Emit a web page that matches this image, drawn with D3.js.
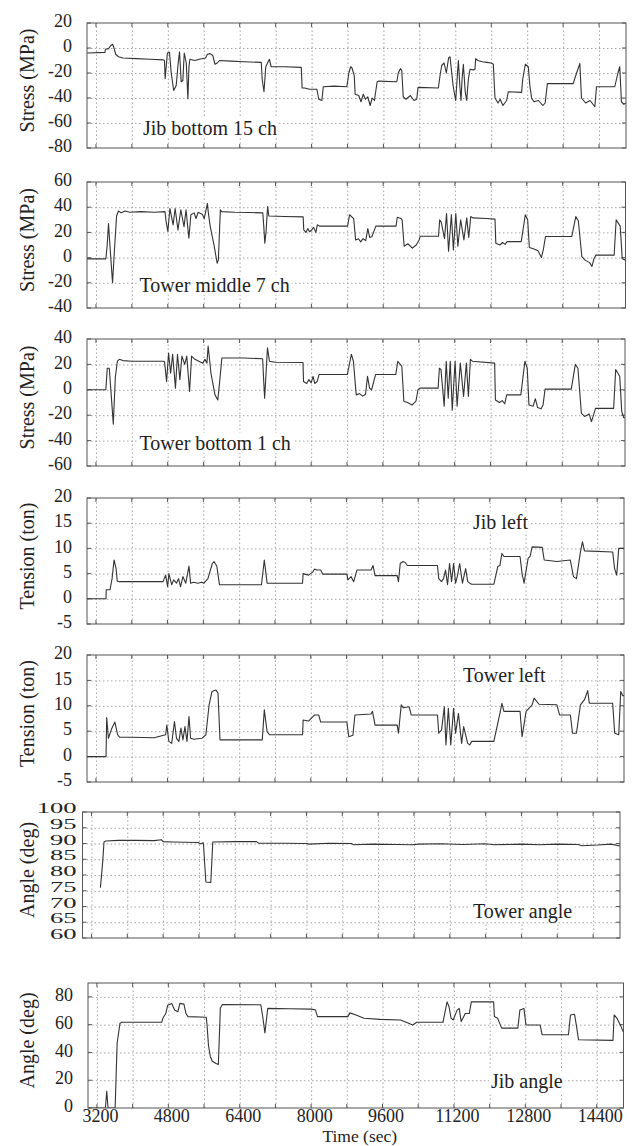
<!DOCTYPE html>
<html><head><meta charset="utf-8">
<script src="https://cdn.jsdelivr.net/npm/d3@7"></script>
<style>
body{margin:0;background:#fff}
svg{display:block}
text{font-family:"Liberation Serif","Times New Roman",serif;fill:#222}
</style>
</head><body>
<svg id="c" width="634" height="1146"></svg>
<script>
// ---------- data ----------
const timeDomain = [3000, 15000];
const gridTimes = [3200,4000,4800,5600,6400,7200,8000,8800,9600,10400,11200,12000,12800,13600,14400];
const labelTimes = [3200,4800,6400,8000,9600,11200,12800,14400];

const jibBottomTicks = [-80,-60,-40,-20,0,20];
const towerMiddleTicks = [-40,-20,0,20,40,60];
const towerBottomTicks = [-60,-40,-20,0,20,40];
const tensionTicks = [-5,0,5,10,15,20];
const towerAngleTicks = [60,65,70,75,80,85,90,95,100];
const jibAngleTicks = [0,20,40,60,80];

const panelTitles = ["Stress (MPa)","Stress (MPa)","Stress (MPa)","Tension (ton)","Tension (ton)","Angle (deg)","Angle (deg)"];
const panelLabels = ["Jib bottom 15 ch","Tower middle 7 ch","Tower bottom 1 ch","Jib left","Tower left","Tower angle","Jib angle"];

const jibBottom15 = [[3000,-4],[3400,-3.5],[3410,-1],[3480,-0.5],[3530,2],[3570,3],[3600,0],[3640,-5],[3700,-7],[3800,-8],[4100,-8.5],[4400,-9],[4700,-9.5],[4725,-10],[4740,-24.5],[4790,-4],[4837,-3.5],[4875,-20],[4930,-34],[4986,-30],[5030,-12],[5060,-3],[5097,-27],[5134,-26],[5165,-4],[5210,-12],[5246,-40.5],[5270,-15],[5290,-9],[5400,-10],[5500,-9],[5640,-8],[5680,-5],[5740,-4.5],[5800,-6],[5850,-13],[5900,-12],[5950,-10],[6200,-10.5],[6500,-11],[6880,-11.5],[6900,-25],[6940,-35],[6980,-15],[7020,-12],[7060,-9],[7100,-15],[7400,-15],[7770,-15.5],[7790,-32],[7850,-32],[7950,-33],[8118,-33],[8160,-41],[8230,-42],[8260,-31],[8500,-30.5],[8785,-31],[8830,-20],[8870,-15],[8900,-16],[8950,-22],[8970,-37],[9050,-38],[9100,-43],[9150,-37],[9200,-41],[9250,-39],[9304,-46],[9350,-40],[9400,-42],[9415,-38],[9460,-27],[9489,-26.5],[9897,-27],[9930,-20],[9980,-16.5],[10008,-18],[10040,-39],[10100,-41],[10200,-38],[10280,-42],[10341,-41],[10370,-31.5],[10823,-32],[10860,-22],[10897,-14],[10950,-12],[11000,-20],[11050,-8],[11082,-7],[11150,-30],[11208,-42],[11240,-25],[11268,-10],[11300,-30],[11327,-42],[11350,-25],[11379,-13],[11420,-35],[11453,-42],[11490,-25],[11527,-17],[11600,-17.5],[11638,-17],[11653,-8.5],[11700,-10],[11800,-11],[11900,-11.5],[12000,-12],[12046,-13],[12083,-40],[12150,-44],[12200,-41],[12260,-46],[12342,-42],[12379,-35],[12675,-35.5],[12700,-25],[12760,-13],[12824,-15],[12860,-30],[12898,-40],[12950,-43],[13050,-42],[13150,-46],[13200,-44],[13250,-28.5],[13824,-28.5],[13900,-20],[13972,-12.5],[14009,-40],[14100,-44],[14200,-42],[14306,-47],[14343,-31],[14750,-31],[14820,-20],[14861,-15],[14898,-43],[14950,-45],[15000,-44]];

const towerMiddle7 = [[3000,-1],[3420,-1],[3450,10],[3479,27],[3520,5],[3569,-20],[3610,5],[3659,33],[3700,37],[3760,35.5],[3850,37],[3950,36],[4200,36.5],[4500,36],[4739,36.5],[4757,30],[4802,20.7],[4847,39],[4919,26],[4964,39],[5027,22],[5090,38],[5162,24.6],[5207,38],[5270,15.4],[5315,34],[5387,35.5],[5430,31],[5477,36],[5567,34.5],[5612,31],[5684,43],[5702,36],[5747,24.6],[5837,8.7],[5900,-4.5],[5927,-2],[5972,38],[5999,36.5],[6300,36],[6600,35.8],[6917,35.5],[6940,24.6],[6962,11.4],[6989,20],[7025,40.5],[7052,33],[7400,32.6],[7817,32.3],[7830,22],[7880,20],[7920,23],[7960,20.5],[7997,21.5],[8050,24],[8100,20],[8132,26],[8177,25],[8807,25],[8852,34],[8942,31],[8987,14],[9050,15],[9100,12.5],[9150,15],[9212,13.5],[9257,23],[9300,16],[9347,16.5],[9437,25],[9887,25],[9914,32],[10000,31],[10022,30],[10067,9],[10150,11],[10250,7.5],[10337,10],[10400,14],[10427,17],[10832,17],[10860,30],[10895,28],[10967,15],[11012,35],[11057,5],[11120,34],[11165,6],[11219,35],[11264,9],[11327,30],[11399,14],[11462,31.5],[11507,16],[11552,32.6],[11597,31.5],[11900,31],[12092,30.5],[12110,11.4],[12200,10],[12260,12],[12317,10.5],[12362,12.7],[12677,12.7],[12767,34],[12820,30],[12857,8],[12950,7],[13050,5.5],[13127,0],[13172,7],[13217,16.7],[13802,16.7],[13892,32.6],[13950,29],[14027,0.8],[14100,-2],[14200,-4],[14252,-7],[14297,-1],[14342,2],[14747,2],[14792,30],[14882,25],[14927,-1],[15000,-2]];

const towerBottom1 = [[3000,0],[3420,0],[3452,17],[3497,17],[3542,-5],[3587,-27],[3632,10],[3677,22.5],[3722,24],[3800,23],[4000,22.5],[4700,22.5],[4730,22],[4775,6.6],[4820,29],[4865,13],[4910,28],[4973,1.3],[5018,28],[5072,8],[5117,26.5],[5180,20],[5225,26.5],[5288,-1.3],[5333,26.5],[5405,24],[5495,22.5],[5585,21],[5630,24],[5675,21],[5702,34.5],[5738,22.5],[5765,13],[5855,-4],[5918,-8],[5963,8],[6008,25],[6500,25],[6917,24.5],[6940,8],[6962,-6.6],[6989,10],[7025,33],[7070,22.5],[7200,21.7],[7817,21.5],[7830,6.6],[7900,5],[7950,8],[8000,5.5],[8042,10.6],[8080,5],[8132,6.5],[8177,12],[8807,12],[8897,28],[8942,22.5],[9005,-4],[9080,-3],[9150,-5],[9212,-3.5],[9257,10.6],[9302,1.3],[9347,0],[9437,12],[9887,12],[9932,22.5],[10022,18.5],[10067,-9],[10150,-10],[10250,-12],[10337,-9],[10382,0],[10427,1.3],[10832,1.3],[10860,17],[10895,16],[10967,-13],[11012,22.5],[11057,-6.6],[11102,22.5],[11147,-16],[11210,22.5],[11255,-13],[11327,21],[11399,-5.3],[11462,21],[11507,-5.3],[11552,24],[11597,22.5],[12092,21],[12110,-8],[12200,-10],[12260,-8.5],[12317,-11],[12362,-4],[12677,-4],[12767,22.5],[12820,17],[12857,-12],[12950,-13],[13000,-7],[13050,-14],[13127,-15],[13172,-12],[13217,0.5],[13802,0.5],[13892,20],[13950,17],[14027,-18.5],[14100,-21],[14200,-19],[14252,-25],[14297,-20],[14342,-14.6],[14747,-14.6],[14792,16],[14882,10.6],[14927,-17],[14972,-22],[15000,-22]];

const jibLeft = [[3000,0],[3425,0],[3430,1.8],[3515,1.8],[3560,4],[3605,7.7],[3650,6],[3677,3.5],[3722,3.4],[4000,3.4],[4700,3.4],[4757,4.7],[4802,2.4],[4830,5],[4847,4.4],[4892,2.8],[4937,3.75],[5000,3.1],[5045,4],[5090,2.4],[5144,4.4],[5207,3.1],[5279,6.5],[5315,3.1],[5387,3.3],[5477,3.1],[5567,3.3],[5612,3.1],[5702,4],[5800,7],[5837,7.4],[5900,6.5],[5960,2.8],[6200,2.8],[6899,2.8],[6962,7.7],[7025,3.1],[7500,3.1],[7817,3.1],[7830,5],[7950,4.7],[8042,5.3],[8087,5.9],[8132,5.7],[8222,5.7],[8267,4.9],[8807,4.9],[8830,3.75],[8900,4.4],[8960,3.4],[9032,5.7],[9347,5.7],[9392,6.6],[9437,4.6],[9932,4.6],[9960,3.4],[10000,7],[10060,7.4],[10110,7.2],[10157,6.6],[10832,6.6],[10860,4],[10922,3.4],[10967,4],[11012,5.7],[11057,2.8],[11102,7],[11147,3.4],[11192,7],[11237,3.1],[11282,4.7],[11327,7],[11390,3.1],[11462,6],[11507,3.4],[11552,3.1],[11597,2.9],[12092,2.9],[12180,6.4],[12227,6.6],[12272,9],[12317,8.4],[12677,8.4],[12722,5],[12767,3.1],[12857,8],[12902,8.4],[12947,10.3],[13172,10.2],[13217,7.7],[13500,7.4],[13800,7.7],[13870,4.4],[13937,4],[14027,9.3],[14072,11.3],[14117,9.5],[14747,9.3],[14790,6],[14837,4.7],[14882,10],[15000,10]];

const towerLeft = [[3000,0],[3425,0],[3440,7.7],[3479,3.6],[3551,5.5],[3623,6.8],[3686,4.3],[3731,3.8],[4000,3.8],[4500,3.7],[4757,4.3],[4784,6.2],[4829,3],[4892,2.6],[4955,6.9],[5000,3.6],[5054,3],[5099,5.6],[5144,3.3],[5189,5.9],[5234,3],[5279,7.9],[5315,3.6],[5387,3.4],[5567,3.6],[5657,4.3],[5729,10.2],[5792,12.8],[5882,13.1],[5927,12.5],[5972,3.3],[6500,3.3],[6917,3.3],[6962,9.2],[7025,4.9],[7079,4.3],[7817,4.3],[7830,7.2],[7950,7],[8087,8.2],[8177,8.2],[8222,6.8],[8807,6.8],[8850,3.9],[8942,4.2],[8987,8.2],[9347,8.4],[9380,8.9],[9437,6.2],[9932,6.2],[9960,4.6],[10022,10.2],[10067,9.6],[10200,9.8],[10245,8.2],[10832,8.2],[10860,4.6],[10922,5.2],[10985,9.8],[11021,2.3],[11075,9.5],[11129,2.3],[11192,9.5],[11237,4.6],[11300,8.5],[11372,2.6],[11417,5.9],[11507,2.6],[11552,2.3],[11597,3],[12092,3],[12227,8.5],[12272,10.5],[12317,8.9],[12677,8.9],[12722,3.9],[12812,8.9],[12947,10.2],[12992,11.5],[13100,10.3],[13500,10.2],[13560,8.2],[13802,8.2],[13850,4.6],[13937,4.6],[14027,10.2],[14117,11.2],[14189,13],[14225,10.5],[14747,10.5],[14792,4.6],[14882,4.3],[14927,12.8],[14972,12],[15000,12]];

const towerAngle = [[3400,76],[3450,84],[3480,90.5],[3520,90.8],[3800,91],[4200,91],[4600,90.9],[4760,91.2],[4800,90.6],[5000,90.5],[5300,90.4],[5575,90.3],[5640,89.9],[5700,90.2],[5730,83],[5755,77.8],[5864,77.6],[5890,85],[5909,90.5],[6400,90.6],[6884,90.6],[6930,90.1],[7500,90.1],[8013,90],[8050,89.8],[8500,90.1],[9006,90],[9050,89.6],[9500,89.8],[10000,89.7],[10361,89.6],[10500,89.8],[11000,89.9],[11500,89.7],[11986,89.9],[12200,89.6],[12800,89.8],[13200,89.6],[13600,89.8],[14063,89.7],[14150,89.3],[14500,89.5],[14800,89.8],[15000,89.2]];

const jibAngle = [[3000,0],[3390,0],[3420,12],[3450,0],[3608,0],[3653,46.8],[3717,61],[3760,61.7],[4651,61.7],[4678,64.6],[4742,68],[4787,74],[4878,75.3],[4941,70.5],[5014,69.3],[5059,75.3],[5150,74.8],[5195,68],[5241,65.8],[5649,65.3],[5667,60],[5700,45],[5740,37.3],[5785,33.7],[5870,32],[5921,31.3],[5966,72],[6012,74.5],[6873,74.3],[6919,65],[6964,54],[7028,71.7],[7500,71.5],[8007,71.2],[8098,70.5],[8143,65.8],[8823,65.8],[8869,68.5],[9005,67],[9186,64.6],[9549,63.8],[10003,63.4],[10184,61],[10275,59.8],[10365,61.7],[10955,61.7],[11046,76.4],[11091,72.9],[11136,64.6],[11182,63.4],[11272,70.5],[11318,71.7],[11363,62.2],[11454,68],[11544,68],[11590,76.4],[12089,76.4],[12107,65.8],[12179,64.6],[12270,57.5],[12633,57.5],[12678,70.5],[12769,71.7],[12814,59.8],[13131,59.8],[13177,52.7],[13766,52.7],[13812,67],[13903,67.5],[13948,58.6],[13993,49.1],[14764,48.7],[14791,67],[14854,64.6],[14945,58.6],[14991,55],[15000,55]];

// ---------- layout ----------
const panels = [
  {data: jibBottom15, dom: [-80,20], ticks: jibBottomTicks, L: 87, R: 626, top: 23, bot: 148, lx: 143, ly: 134.5, fs: 18, pad: 15, sx: 1, dy: "0.2em"},
  {data: towerMiddle7, dom: [-40,60], ticks: towerMiddleTicks, L: 87, R: 625.5, top: 182, bot: 308, lx: 139.5, ly: 292, fs: 18, pad: 15, sx: 1, dy: "0.2em"},
  {data: towerBottom1, dom: [-60,40], ticks: towerBottomTicks, L: 87, R: 625, top: 339, bot: 466, lx: 139.5, ly: 450, fs: 18, pad: 15, sx: 1, dy: "0.2em"},
  {data: jibLeft, dom: [-5,20], ticks: tensionTicks, L: 87, R: 624, top: 498, bot: 624, lx: 473, ly: 528.5, fs: 18, pad: 15, sx: 1, dy: "0.2em"},
  {data: towerLeft, dom: [-5,20], ticks: tensionTicks, L: 87, R: 624, top: 655, bot: 782, lx: 463, ly: 682, fs: 18, pad: 15, sx: 1, dy: "0.2em"},
  {data: towerAngle, dom: [60,100], ticks: towerAngleTicks, L: 82.5, R: 620, top: 812, bot: 938, lx: 473, ly: 918, fs: 14, pad: 3.1, sx: 1.9, dy: "0.05em"},
  {data: jibAngle, dom: [0,90], ticks: jibAngleTicks, L: 88, R: 623.5, top: 983, bot: 1108, lx: 491, ly: 1088, fs: 18, pad: 15, sx: 1, dy: "0.2em"}
];

const svg = d3.select("#c");
const gridCol = "#9c9c9c", boxCol = "#555";
const serif = '"Liberation Serif","Times New Roman",serif';

panels.forEach((p, i) => {
  const x = d3.scaleLinear().domain(timeDomain).range([p.L, p.R]);
  const y = d3.scaleLinear().domain(p.dom).range([p.bot, p.top]);
  const g = svg.append("g");
  const h = p.bot - p.top;

  // vertical grid
  const gx = g.append("g").attr("transform", `translate(0,${p.bot})`)
    .call(d3.axisBottom(x).tickValues(gridTimes).tickSize(-h).tickFormat(""));
  gx.select(".domain").remove();
  gx.selectAll("line").attr("stroke", gridCol).attr("stroke-width", 0.9).attr("stroke-dasharray", "1.5,2.5");

  // horizontal grid
  const gy = g.append("g").attr("transform", `translate(${p.L},0)`)
    .call(d3.axisLeft(y).tickValues(p.ticks.filter(v => v !== p.dom[0] && v !== p.dom[1])).tickSize(-(p.R - p.L)).tickFormat(""));
  gy.select(".domain").remove();
  gy.selectAll("line").attr("stroke", gridCol).attr("stroke-width", 0.9).attr("stroke-dasharray", "1.5,2.5");

  // inner tick marks
  const tk = g.append("g").attr("stroke", boxCol).attr("stroke-width", 1);
  gridTimes.forEach(t => {
    tk.append("line").attr("x1", x(t)).attr("x2", x(t)).attr("y1", p.bot).attr("y2", p.bot - 4);
    tk.append("line").attr("x1", x(t)).attr("x2", x(t)).attr("y1", p.top).attr("y2", p.top + 4);
  });
  p.ticks.forEach(v => {
    tk.append("line").attr("x1", p.L).attr("x2", p.L + 4).attr("y1", y(v)).attr("y2", y(v));
    tk.append("line").attr("x1", p.R).attr("x2", p.R - 4).attr("y1", y(v)).attr("y2", y(v));
  });

  // clip + series line
  const cid = "clip" + i;
  svg.append("clipPath").attr("id", cid).append("rect")
    .attr("x", p.L).attr("y", p.top).attr("width", p.R - p.L).attr("height", h);
  g.append("path").datum(p.data)
    .attr("clip-path", `url(#${cid})`)
    .attr("fill", "none").attr("stroke", "#333").attr("stroke-width", 1.1)
    .attr("stroke-linejoin", "round")
    .attr("d", d3.line().x(d => x(d[0])).y(d => y(d[1])));

  // box
  g.append("rect").attr("x", p.L).attr("y", p.top).attr("width", p.R - p.L).attr("height", h)
    .attr("fill", "none").attr("stroke", boxCol).attr("stroke-width", 1);

  // y tick labels
  const ya = g.append("g").attr("transform", `translate(${p.L},0)`)
    .call(d3.axisLeft(y).tickValues(p.ticks).tickSize(0).tickPadding(p.pad).tickFormat(d => String(d)));
  ya.select(".domain").remove();
  ya.selectAll("text").attr("font-size", p.fs).attr("dy", p.dy)
    .attr("transform", p.sx !== 1 ? `scale(${p.sx},1)` : null)
    .style("font-family", serif).attr("fill", "#222");

  // y title
  g.append("text")
    .attr("transform", `translate(34,${(p.top + p.bot) / 2 - 5}) rotate(-90)`)
    .attr("text-anchor", "middle").attr("font-size", 20)
    .text(panelTitles[i]);

  // annotation with white backing
  const lab = g.append("text").attr("x", p.lx).attr("y", p.ly).attr("font-size", 20).text(panelLabels[i]);
  const bb = lab.node().getBBox();
  g.insert("rect", function(){ return lab.node(); })
    .attr("x", bb.x - 2).attr("y", bb.y + 1).attr("width", bb.width + 4).attr("height", bb.height - 2)
    .attr("fill", "#fff");

  // bottom axis labels on last panel
  if (i === panels.length - 1) {
    const xa = g.append("g").attr("transform", `translate(0,${p.bot})`)
      .call(d3.axisBottom(x).tickValues(labelTimes).tickSize(0).tickPadding(1.5).tickFormat(d => String(d)));
    xa.select(".domain").remove();
    xa.selectAll("text").attr("font-size", 18).attr("dx", 3)
      .style("font-family", serif).attr("fill", "#222");
    g.append("text").attr("x", (p.L + p.R) / 2 + 4).attr("y", 1142)
      .attr("text-anchor", "middle").attr("font-size", 17.5).text("Time (sec)");
  }
});
</script>
</body></html>
